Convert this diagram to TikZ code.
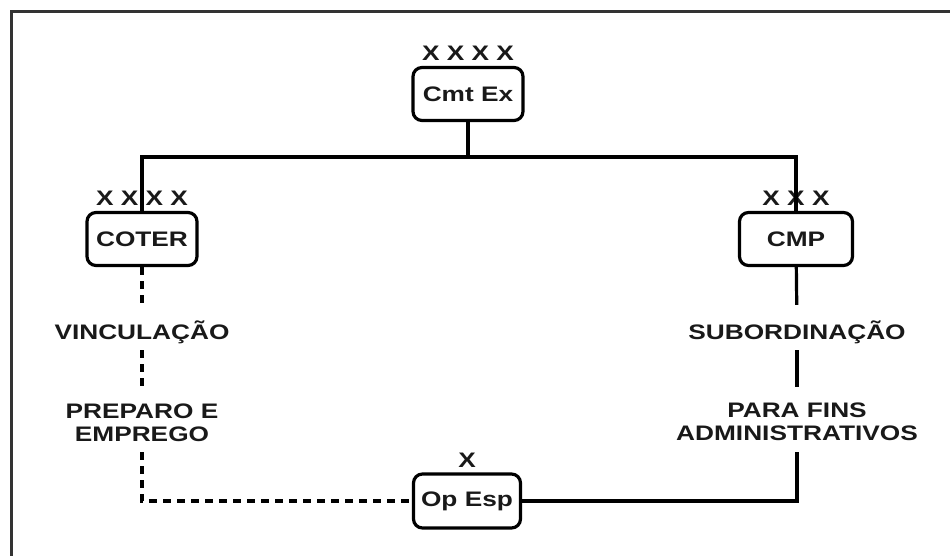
\documentclass[tikz,border=0pt]{standalone}
\usepackage{fontspec}
\newfontfamily\orgfont{Liberation Sans}[FakeStretch=1.25]
\usepackage{tikz}
\usetikzlibrary{calc}

\begin{document}
\begin{tikzpicture}[x=1pt, y=-1pt,
  every node/.style={font=\orgfont\bfseries\fontsize{21}{23}\selectfont, text=black!90},
  unit/.style={draw, line width=3.2pt, rounded corners=9pt, minimum width=110pt, minimum height=53pt, inner sep=0pt},
  tag/.style={inner sep=0pt},
  note/.style={inner sep=0pt, anchor=base, align=center},
  link/.style={line width=3.2pt},
  loose/.style={line width=3.2pt, dash pattern=on 8pt off 6pt}]
\useasboundingbox (0,0) rectangle (950,556);
\draw[line width=3.5pt, black!80] (11.5,556) -- (11.5,11.5) -- (950,11.5);
\node[unit, label={[tag, label distance=5pt]above:X X X X}] (cmtex) at (468,94) {Cmt Ex};
\node[unit, label={[tag, label distance=5pt]above:X X X X}] (coter) at (142,239) {COTER};
\node[unit, minimum width=113pt, label={[tag, label distance=5pt]above:X X X}] (cmp) at (796,239) {CMP};
\node[unit, minimum width=107pt, minimum height=54pt, label={[tag, label distance=5pt]above:X}] (opesp) at (467,501) {Op Esp};
\coordinate (bus) at (468,157);
\node[note, text height=34.5pt, text depth=10.5pt] (vinc) at (142,339.5) {VINCULAÇÃO};
\node[note, text height=54.5pt, text depth=10.5pt] (preparo) at (142,441.5) {PREPARO E\\EMPREGO};
\node[note, text height=34.5pt, text depth=10.5pt] (subord) at (797,339.5) {SUBORDINAÇÃO};
\node[note, text height=53.5pt, text depth=11.5pt] (parafins) at (797,440.5) {PARA FINS\\ADMINISTRATIVOS};
\draw[link] (cmtex) -- (bus);
\draw[link] (coter.north) |- (bus) -| (cmp.north);
\draw[loose] (coter) -- (vinc);
\draw[loose] (vinc) -- (preparo);
\draw[loose] (preparo.south) |- (opesp.west);
\draw[link] (cmp) -- (subord);
\draw[link] (subord) -- (parafins);
\draw[link] (parafins.south) |- (opesp.east);
\end{tikzpicture}
\end{document}
